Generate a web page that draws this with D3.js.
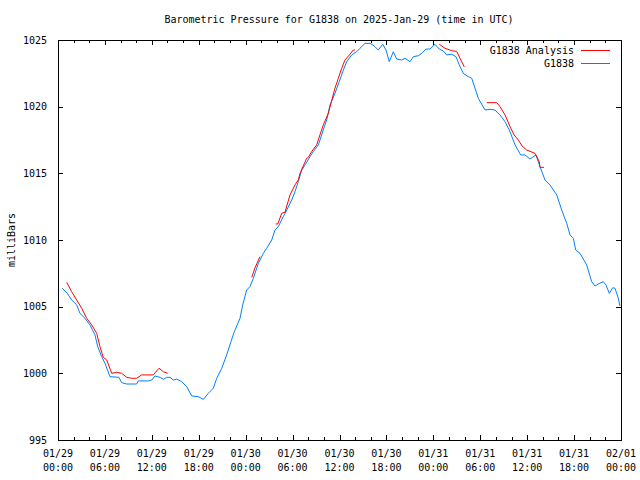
<!DOCTYPE html>
<html>
<head>
<meta charset="utf-8">
<script src="https://cdn.jsdelivr.net/npm/d3@7"></script>
<style>
  html, body { margin: 0; padding: 0; background: #fff; }
  svg { display: block; }
  text { font-family: "DejaVu Sans Mono", "Liberation Mono", monospace; font-size: 10px; fill: #000; }
</style>
</head>
<body>
<svg id="chart" width="640" height="480"></svg>
<script>
// ---- Data (hours since 2025-01-29 00:00 UTC, pressure in mb) ----
const titleText = "Barometric Pressure for G1838 on 2025-Jan-29 (time in UTC)";
const yLabel = "milliBars";
const seriesNames = ["G1838 Analysis", "G1838"];
const yTicks = [995, 1000, 1005, 1010, 1015, 1020, 1025];
const xTickHours = [0, 6, 12, 18, 24, 30, 36, 42, 48, 54, 60, 66, 72];

const obsHours = [0.55, 1.19, 1.75, 2.39, 2.81, 3.45, 4.09, 4.73, 5.08, 5.59, 6.01, 6.65, 7.80, 8.15, 8.79, 10.06, 10.27, 11.55, 11.98, 12.41, 13.04, 13.47, 13.90, 14.32, 14.75, 15.18, 15.82, 16.46, 17.10, 17.94, 18.58, 19.22, 19.86, 20.30, 20.94, 21.57, 22.12, 22.55, 23.28, 23.62, 24.13, 24.55, 24.98, 25.62, 26.26, 26.69, 27.33, 27.75, 28.17, 28.81, 29.25, 29.89, 30.31, 30.73, 31.17, 31.59, 32.23, 32.65, 33.29, 33.72, 34.06, 34.36, 34.79, 35.42, 35.97, 36.41, 36.92, 37.56, 38.20, 38.62, 39.26, 39.90, 40.41, 40.96, 41.53, 41.95, 42.37, 42.88, 43.32, 43.96, 44.38, 45.02, 45.44, 46.08, 46.51, 47.06, 47.57, 48.21, 48.76, 49.27, 49.71, 50.35, 50.90, 51.32, 51.83, 52.47, 52.91, 53.33, 53.75, 54.61, 55.25, 55.89, 56.53, 57.17, 57.72, 58.45, 59.17, 59.72, 60.36, 61.13, 61.64, 62.28, 62.92, 63.78, 64.42, 65.06, 65.48, 65.90, 66.21, 66.76, 67.61, 68.25, 68.68, 69.10, 69.74, 70.08, 70.51, 70.94, 71.23, 71.66, 71.87];
const obsPressure = [1006.38, 1006.0, 1005.5, 1005.13, 1004.5, 1004.13, 1003.63, 1002.88, 1002.0, 1001.25, 1000.75, 999.75, 999.7, 999.3, 999.2, 999.2, 999.43, 999.43, 999.5, 999.8, 999.7, 999.55, 999.7, 999.7, 999.5, 999.57, 999.37, 999.0, 998.3, 998.25, 998.05, 998.5, 998.88, 999.63, 1000.38, 1001.38, 1002.37, 1003.12, 1004.13, 1005.13, 1006.25, 1006.5, 1007.13, 1008.25, 1009.0, 1009.38, 1010.0, 1010.75, 1011.0, 1011.75, 1012.25, 1013.0, 1013.62, 1014.37, 1015.25, 1015.63, 1016.25, 1016.63, 1017.13, 1017.88, 1018.5, 1019.0, 1020.13, 1021.0, 1021.87, 1022.62, 1023.37, 1023.88, 1024.12, 1024.38, 1024.75, 1024.75, 1024.57, 1024.25, 1024.68, 1024.25, 1023.37, 1024.12, 1023.57, 1023.5, 1023.63, 1023.37, 1023.75, 1023.82, 1024.0, 1024.32, 1024.32, 1024.68, 1024.32, 1024.18, 1023.88, 1023.93, 1023.75, 1023.13, 1022.5, 1022.25, 1022.13, 1021.38, 1020.63, 1019.75, 1019.8, 1019.75, 1019.38, 1018.87, 1018.25, 1017.13, 1016.38, 1016.38, 1016.08, 1016.38, 1015.5, 1014.5, 1014.13, 1013.38, 1012.25, 1011.25, 1010.38, 1010.13, 1009.25, 1009.0, 1008.13, 1006.87, 1006.55, 1006.7, 1006.87, 1006.63, 1006.0, 1006.42, 1006.38, 1005.63, 1005.05];

// Analysis series: null marks a gap between segments
const anaHours = [1.11, 1.75, 2.39, 3.03, 3.67, 4.31, 4.95, 5.37, 5.79, 6.23, 6.87, 7.51, 8.15, 8.79, 9.43, 10.06, 10.70, 12.19, 12.92, 13.47, 14.03,
  null,
  24.77, 25.19, 25.83,
  null,
  27.84, 28.10, 28.61, 29.03, 29.67, 30.31, 30.73, 30.95, 31.80, 32.01, 32.44, 33.08, 33.50, 33.93, 34.57, 35.42, 35.85, 36.28, 36.70, 37.34, 37.77, 37.98,
  null,
  48.76, 49.49, 50.35, 50.99, 51.41, 51.96,
  null,
  54.83, 56.10, 56.53, 57.17, 57.81, 58.32, 58.87, 59.35, 59.94, 61.00, 61.55, 61.64, 62.15];
const anaPressure = [1006.83, 1006.12, 1005.5, 1004.88, 1004.13, 1003.63, 1003.0, 1002.0, 1001.2, 1001.0, 1000.0, 1000.08, 1000.0, 999.7, 999.63, 999.63, 999.88, 999.88, 1000.38, 1000.12, 1000.0,
  null,
  1007.2, 1007.9, 1008.75,
  null,
  1011.2, 1011.2, 1012.0, 1012.08, 1013.38, 1014.13, 1014.5, 1015.0, 1016.13, 1016.2, 1016.63, 1017.13, 1017.88, 1018.63, 1019.5, 1021.38, 1022.13, 1022.88, 1023.5, 1023.93, 1024.25, 1024.25,
  null,
  1024.68, 1024.38, 1024.2, 1024.14, 1023.63, 1022.98,
  null,
  1020.3, 1020.3, 1020.0, 1019.38, 1018.5, 1017.88, 1017.5, 1017.05, 1016.75, 1016.5, 1015.87, 1015.45, 1015.45];

const colors = { analysis: "#ff0000", obs: "#0080ff" };

// ---- Layout ----
const margin = { left: 58, right: 19, top: 40, bottom: 40 };
const W = 640, H = 480;
const t0 = Date.UTC(2025, 0, 29, 0, 0);
const toDate = h => new Date(t0 + h * 3600e3);

const svg = d3.select("#chart");
const x = d3.scaleUtc().domain([toDate(0), toDate(72)]).range([margin.left, W - margin.right]);
const y = d3.scaleLinear().domain([995, 1025]).range([H - margin.bottom, margin.top]);

const fmtDate = d3.utcFormat("%m/%d");
const fmtTime = d3.utcFormat("%H:%M");
const minorHours = d3.range(0, 73, 2).filter(h => h % 6 !== 0);

// Axes (gnuplot style: ticks on all four sides, pointing inward)
const axisG = svg.append("g").attr("shape-rendering", "crispEdges");
axisG.append("g").attr("transform", `translate(0,${y(995)})`)
  .call(d3.axisBottom(x).tickValues(xTickHours.map(toDate)).tickSizeInner(-5).tickSizeOuter(0).tickFormat(""));
axisG.append("g").attr("transform", `translate(0,${y(995)})`)
  .call(d3.axisBottom(x).tickValues(minorHours.map(toDate)).tickSizeInner(-3).tickSizeOuter(0).tickFormat(""));
axisG.append("g").attr("transform", `translate(0,${y(1025)})`)
  .call(d3.axisTop(x).tickValues(xTickHours.map(toDate)).tickSizeInner(-5).tickSizeOuter(0).tickFormat(""));
axisG.append("g").attr("transform", `translate(0,${y(1025)})`)
  .call(d3.axisTop(x).tickValues(minorHours.map(toDate)).tickSizeInner(-3).tickSizeOuter(0).tickFormat(""));
axisG.append("g").attr("transform", `translate(${x(toDate(0))},0)`)
  .call(d3.axisLeft(y).tickValues(yTicks).tickSizeInner(-5).tickSizeOuter(0).tickPadding(11).tickFormat(d3.format("d")));
axisG.append("g").attr("transform", `translate(${x(toDate(72))},0)`)
  .call(d3.axisRight(y).tickValues(yTicks).tickSizeInner(-5).tickSizeOuter(0).tickFormat(""));
axisG.selectAll(".domain").attr("stroke", "#000");
axisG.selectAll(".tick line").attr("stroke", "#000");
axisG.selectAll("text").attr("font-family", null).attr("font-size", null);

// Frame
axisG.append("rect")
  .attr("x", x(toDate(0)) + 0.5).attr("y", y(1025) + 0.5)
  .attr("width", x(toDate(72)) - x(toDate(0))).attr("height", y(995) - y(1025))
  .attr("fill", "none").attr("stroke", "#000");

// X tick labels (two lines)
const xl = svg.append("g");
xTickHours.forEach(h => {
  const d = toDate(h);
  const t = xl.append("text").attr("x", x(d)).attr("text-anchor", "middle");
  t.append("tspan").attr("x", x(d)).attr("y", 457).text(fmtDate(d));
  t.append("tspan").attr("x", x(d)).attr("y", 471).text(fmtTime(d));
});

// Title & y label
svg.append("text").attr("x", 339).attr("y", 23).attr("text-anchor", "middle").text(titleText);
svg.append("text").attr("transform", "translate(15,240) rotate(-90)").attr("text-anchor", "middle").text(yLabel);

// Lines
const obsData = obsHours.map((h, i) => ({ t: toDate(h), p: obsPressure[i] }));
const anaData = anaHours.map((h, i) => ({ t: h === null ? null : toDate(h), p: anaPressure[i] }));
const line = d3.line().defined(d => d.t !== null && d.p !== null).x(d => x(d.t)).y(d => y(d.p));

svg.append("path").datum(obsData).attr("d", line)
  .attr("fill", "none").attr("stroke", colors.obs).attr("stroke-width", 1);
svg.append("path").datum(anaData).attr("d", line)
  .attr("fill", "none").attr("stroke", colors.analysis).attr("stroke-width", 1);

// Legend
const leg = svg.append("g");
[[seriesNames[0], colors.analysis, 50], [seriesNames[1], colors.obs, 63]].forEach(([name, c, yy]) => {
  leg.append("text").attr("x", 574).attr("y", yy + 4).attr("text-anchor", "end").text(name);
  leg.append("line").attr("x1", 581).attr("x2", 610).attr("y1", yy + 0.5).attr("y2", yy + 0.5)
    .attr("stroke", c).attr("stroke-width", 1).attr("shape-rendering", "crispEdges");
});
</script>
</body>
</html>
